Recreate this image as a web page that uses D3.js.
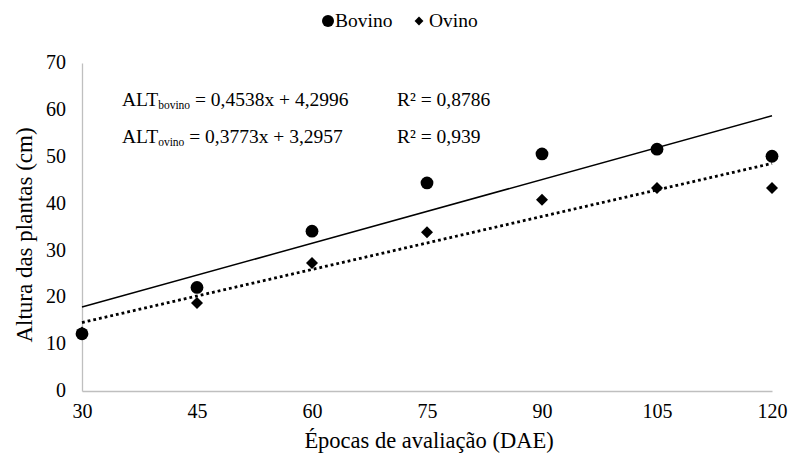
<!DOCTYPE html>
<html><head><meta charset="utf-8">
<script src="https://cdn.jsdelivr.net/npm/d3@7"></script>
<style>body{margin:0;background:#fff;} svg{display:block;font-family:"Liberation Serif","Times New Roman",serif;}</style>
</head><body>
<svg id="c" width="792" height="464"></svg>
<script>
const days = [30, 45, 60, 75, 90, 105, 120];
const bovino = [12.2, 22.1, 34.1, 44.4, 50.6, 51.6, 50.1];
const ovino = [12.5, 18.8, 27.3, 33.9, 40.8, 43.3, 43.3];
const yTicks = [0, 10, 20, 30, 40, 50, 60, 70];
const trendBovino = {slope: 0.4538, intercept: 4.2996, r2: "0,8786"};
const trendOvino = {slope: 0.3773, intercept: 3.2957, r2: "0,939"};
const seriesNames = ["Bovino", "Ovino"];

const svg = d3.select("#c");
const x = d3.scaleLinear().domain([30, 120]).range([82, 772]);
const y = d3.scaleLinear().domain([0, 70]).range([391, 63]);

// axes
const xAxis = svg.append("g").attr("transform", `translate(0,${y(0)})`)
  .call(d3.axisBottom(x).tickValues(days).tickSize(0).tickPadding(13));
const yAxis = svg.append("g").attr("transform", `translate(${x(30)},0)`)
  .call(d3.axisLeft(y).tickValues(yTicks).tickSize(0).tickPadding(16));
[xAxis, yAxis].forEach(g => {
  g.select(".domain").attr("stroke", "#bfbfbf").attr("stroke-width", 1.3);
  g.selectAll("text").attr("font-family", "Liberation Serif").attr("font-size", 20).attr("fill", "#000");
});
xAxis.selectAll("text").attr("dy", "0.71em");
yAxis.selectAll("text").attr("dy", "0.28em");

// trendlines
function trend(t) {
  return svg.append("line")
    .attr("x1", x(30)).attr("y1", y(t.slope * 30 + t.intercept))
    .attr("x2", x(120)).attr("y2", y(t.slope * 120 + t.intercept))
    .attr("stroke", "#000");
}
trend(trendBovino).attr("stroke-width", 1.5);
trend(trendOvino).attr("stroke-width", 2.8).attr("stroke-dasharray", "2.8,3");

// points
svg.append("g").selectAll("circle").data(days).join("circle")
  .attr("cx", d => x(d)).attr("cy", (d, i) => y(bovino[i])).attr("r", 6.4).attr("fill", "#000");
const diamond = d3.symbol().type(d3.symbolDiamond2).size(92);
svg.append("g").selectAll("path").data(days).join("path")
  .attr("d", diamond)
  .attr("transform", (d, i) => `translate(${x(d)},${y(ovino[i])})`).attr("fill", "#000");

// axis titles
svg.append("text").attr("x", 429).attr("y", 448).attr("text-anchor", "middle")
  .attr("font-size", 22.5).text("Épocas de avaliação (DAE)");
svg.append("text").attr("transform", "translate(32,235) rotate(-90)").attr("text-anchor", "middle")
  .attr("font-size", 23).text("Altura das plantas (cm)");

// legend
const leg = svg.append("g");
leg.append("circle").attr("cx", 328).attr("cy", 21).attr("r", 6).attr("fill", "#000");
leg.append("text").attr("x", 335).attr("y", 27).attr("font-size", 19.5).text(seriesNames[0]);
leg.append("path").attr("d", d3.symbol().type(d3.symbolDiamond2).size(50)).attr("transform", "translate(419,21)").attr("fill", "#000");
leg.append("text").attr("x", 429).attr("y", 27).attr("font-size", 19.5).text(seriesNames[1]);

// equations
function fmt(v) { return String(v).replace(".", ","); }
function eq(t, sub, yy) {
  const tx = svg.append("text").attr("x", 122).attr("y", yy).attr("font-size", 19.5);
  tx.append("tspan").text("ALT");
  tx.append("tspan").attr("font-size", 11.5).attr("dy", 3).text(sub);
  tx.append("tspan").attr("dy", -3).text(` = ${fmt(t.slope)}x + ${fmt(t.intercept)}`);
  const r = svg.append("text").attr("x", 397).attr("y", yy).attr("font-size", 19.5);
  r.append("tspan").text("R² = " + t.r2);
}
eq(trendBovino, "bovino", 106);
eq(trendOvino, "ovino", 143);
</script>
</body></html>
